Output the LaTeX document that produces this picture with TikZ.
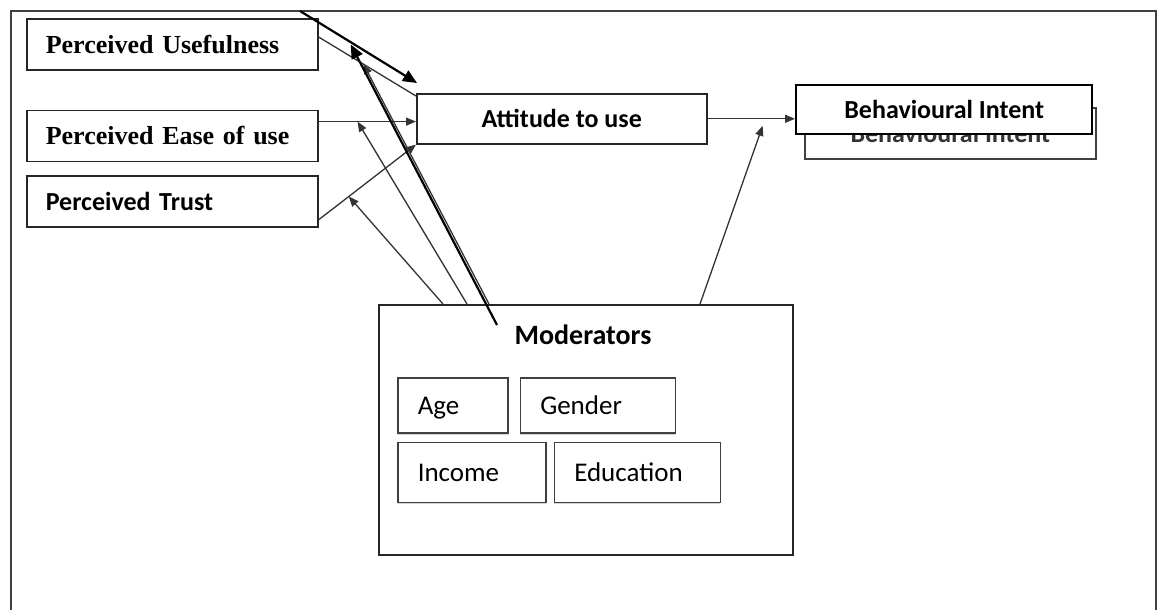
\documentclass[tikz,border=0pt]{standalone}
\usepackage{fontspec}
\setmainfont{Liberation Serif}
\newfontfamily\calibri{Carlito}
\usetikzlibrary{arrows.meta,positioning,calc,shadows}

\begin{document}
\begin{tikzpicture}[x=0.5pt,y=-0.5pt,
	factor/.style={draw=black!85,line width=0.8pt,minimum height=25.5pt,text width=126.5pt,inner xsep=9.5pt,inner ysep=0pt,align=left,font=\bfseries\fontsize{13}{15}\selectfont},
	mainbox/.style={draw=black!85,line width=0.8pt,inner sep=0pt,font=\calibri\bfseries\fontsize{13}{15}\selectfont},
	modbox/.style={draw=black!75,line width=0.75pt,fill=white,inner xsep=10pt,inner ysep=0pt,text height=12pt,text depth=2.5pt,align=left,font=\calibri\fontsize{13.5}{15}\selectfont,drop shadow={shadow xshift=0pt,shadow yshift=-1pt,opacity=0.35}},
	link/.style={draw=black!80,line width=0.65pt,-{Triangle[length=5pt,width=4pt]}},
	heavy/.style={draw=black,line width=1.1pt,-{Triangle[length=7pt,width=6pt]}}]
					\useasboundingbox (0,0) rectangle (1160,610);
					\draw[black!75,line width=0.9pt] (11,610) -- (11,11) -- (1156,11) -- (1156,610);
					
					\node[factor,anchor=north west] (useful) at (26,18) {Perceived Usefulness};
					\node[factor,below=19.5pt of useful] (ease) {Perceived Ease of use};
					\node[factor,below=6.5pt of ease,font=\calibri\bfseries\fontsize{13}{15}\selectfont] (trust) {Perceived Trust};
					
					\node[mainbox,minimum width=145pt,minimum height=25pt,anchor=north west] (att) at (416,93) {Attitude to use};
					\node[mainbox,draw=black!75,text=black!80,minimum width=145.5pt,minimum height=25.5pt,anchor=north west] (behback) at (804,107) {Behavioural Intent};
					\node[mainbox,draw=black,line width=1.2pt,fill=white,minimum width=148pt,minimum height=24.5pt,anchor=north west] (beh) at (795,84) {Behavioural Intent};
					
					\node[draw=black!85,line width=0.8pt,minimum width=207pt,minimum height=125pt,anchor=north west] (mod) at (378,304) {};
					\node[font=\calibri\bfseries\fontsize{14}{16}\selectfont] (modlabel) at (583,335) {Moderators};
					\node[modbox,text width=35pt,minimum height=27.5pt,anchor=north west] (age) at (397,377) {Age};
					\node[modbox,text width=57.5pt,minimum height=27.5pt,right=5.5pt of age] (gender) {Gender};
					\node[modbox,text width=54pt,minimum height=30pt,below=4pt of age.south west,anchor=north west] (income) {Income};
					\node[modbox,text width=63pt,minimum height=30pt,right=3.5pt of income] (edu) {Education};
					
					\coordinate (u1) at ($(useful.north east)+(0,19)$);
					\coordinate (u2) at ($(att.north west)+(0,3)$);
					\coordinate (e1) at ($(ease.north east)+(0,12)$);
					\coordinate (t1) at ($(trust.south east)+(0,-8)$);
					\coordinate (stray) at (300,11);
					\coordinate (mfoot) at (497,325);
					
					\draw[draw=black!80,line width=0.65pt] (u1) -- (u2);
					\draw[link] (e1) -- (e1 -| att.west);
					\draw[link] (t1) -- (att.south west);
					\draw[link] (att.east) -- (att.east -| beh.west);
					
					\draw[link] ($(mod.north west)+(65,0)$) -- ($(t1)!0.31!(att.south west)$);
					\draw[link] ($(mod.north west)+(89,0)$) -- ($(e1)!0.4!(e1 -| att.west)$);
					\draw[link] ($(mod.north west)+(111,0)$) -- ($(u1)!0.46!(u2)$);
					\draw[link] ($(mod.north west)+(322,0)$) -- ($(att.east)!0.63!(att.east -| beh.west)+(0,7)$);
					
					\draw[heavy] (stray) -- ($(att.north west)+(1,-10)$);
					\draw[heavy] (mfoot) -- ($(u1)!0.33!(u2)+(0,-12)$);
				\end{tikzpicture}
\end{document}
